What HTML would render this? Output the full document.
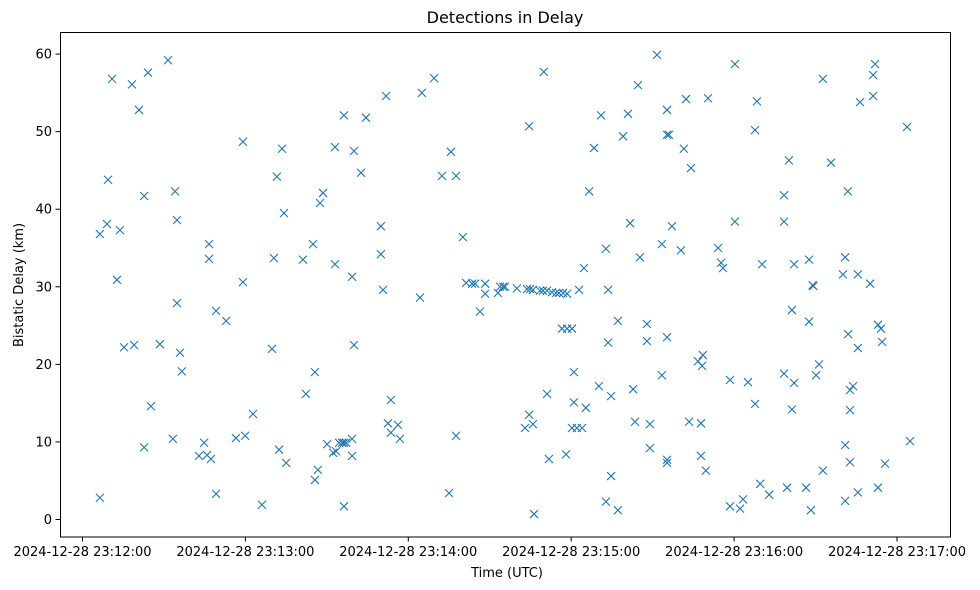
<!DOCTYPE html>
<html><head><meta charset="utf-8"><style>
html,body{margin:0;padding:0;background:#fff;}
svg{display:block;font-family:"DejaVu Sans","Liberation Sans",sans-serif;}
</style></head><body>
<svg id="chart" width="980" height="590" viewBox="0 0 980 590" xmlns="http://www.w3.org/2000/svg">
<rect x="0" y="0" width="980" height="590" fill="#fff"/>
<text x="505" y="23" text-anchor="middle" font-size="16" fill="#000">Detections in Delay</text>
<text x="507" y="577" text-anchor="middle" font-size="13" fill="#000">Time (UTC)</text>
<text transform="translate(23,285) rotate(-90)" text-anchor="middle" font-size="13" fill="#000">Bistatic Delay (km)</text>
<g id="marks"></g>
<g id="axes"></g>
<rect x="60.5" y="32.5" width="890" height="504.5" fill="none" stroke="#000" stroke-width="1"/>
</svg>
<script>
// seconds after 2024-12-28 23:12:00
const times = [10.9,18.2,24.1,31.5,20.8,9.4,22.7,34.1,34.8,9.0,6.4,13.8,59.1,73.5,71.6,74.2,93.0,96.3,100.0,104.4,102.6,88.6,87.5,84.9,46.6,46.6,70.5,81.2,93.0,99.3,12.7,59.1,34.8,49.2,52.9,15.3,19.0,28.5,35.9,36.6,69.8,100.0,85.6,82.3,25.2,62.8,22.7,33.3,44.8,42.9,45.9,47.3,56.5,59.9,72.4,75.0,90.1,92.3,93.4,94.5,95.6,96.3,97.1,99.3,99.3,86.7,85.6,6.4,49.2,66.1,96.3,111.8,125.0,129.5,135.7,132.4,137.6,109.9,109.9,140.1,169.9,164.5,211.6,204.6,191.0,200.9,215.3,199.1,215.3,216.0,188.4,186.6,201.7,217.1,192.8,213.4,205.3,184.7,110.7,124.3,141.3,143.5,144.6,148.3,148.3,146.4,153.0,153.8,154.9,155.6,160.0,163.7,164.8,165.9,168.5,169.6,171.1,172.9,174.4,175.5,177.0,178.5,182.9,193.6,176.6,178.5,180.3,197.2,207.9,193.6,207.9,215.3,181.0,213.4,190.2,171.1,181.0,194.7,202.8,185.4,113.6,164.5,165.9,163.0,112.5,116.2,113.6,116.9,137.6,180.3,182.1,184.0,203.5,209.0,209.0,215.3,215.3,171.8,178.1,194.7,135.0,192.8,197.2,166.3,240.3,272.7,291.9,291.2,291.2,286.4,303.7,222.3,230.4,248.4,247.7,221.5,224.1,260.2,275.7,258.4,281.9,240.3,258.4,220.4,234.1,235.2,235.9,250.3,262.1,267.6,280.9,280.1,285.6,290.1,268.9,269.2,261.3,267.6,282.0,285.6,293.0,294.1,294.5,228.5,226.7,228.2,238.5,245.1,258.4,262.1,271.3,270.2,283.8,282.7,247.7,261.3,282.7,223.4,227.8,280.9,282.7,304.8,227.8,229.6,295.6,272.7,249.6,252.9,259.5,266.5,238.5,242.2,243.3,268.3,280.9,285.6,293.0];
const delays = [56.8,56.1,57.6,59.2,52.8,43.8,41.7,42.3,38.6,38.1,36.8,37.3,48.7,47.8,44.2,39.5,48.0,52.1,47.5,51.8,44.7,42.1,40.8,35.5,35.5,33.6,33.7,33.5,32.9,31.3,30.9,30.6,27.9,26.9,25.6,22.2,22.5,22.6,21.5,19.1,22.0,22.5,19.0,16.2,14.6,13.6,9.3,10.4,9.9,8.2,8.3,7.8,10.5,10.8,9.0,7.3,9.7,8.6,8.8,9.9,9.9,9.9,9.9,10.4,8.2,6.4,5.1,2.8,3.3,1.9,1.7,54.6,55.0,56.9,47.4,44.3,44.3,37.8,34.2,36.4,57.7,50.7,59.9,56.0,52.1,52.3,52.8,49.4,49.6,49.6,47.9,42.3,38.2,37.8,34.9,35.5,33.8,32.4,29.6,28.6,30.5,30.4,30.4,30.4,29.1,26.8,29.2,30.0,30.0,30.0,29.8,29.7,29.7,29.6,29.5,29.5,29.5,29.3,29.2,29.2,29.2,29.1,29.6,29.6,24.6,24.6,24.6,25.6,25.2,22.8,23.0,23.5,19.0,18.6,17.2,16.2,15.1,15.9,16.8,14.4,15.4,13.5,12.3,11.8,12.4,12.2,11.2,10.4,10.8,11.8,11.8,11.8,12.6,12.3,9.2,7.7,7.3,7.8,8.4,5.6,3.4,2.3,1.2,0.7,58.7,56.8,58.7,57.3,54.6,53.8,50.6,54.2,54.3,53.9,50.2,47.8,45.3,46.3,46.0,41.8,42.3,38.4,38.4,34.7,35.0,33.1,32.4,32.9,32.9,33.5,33.8,31.6,31.6,30.4,30.2,30.1,27.0,25.5,23.9,22.1,25.1,24.6,22.9,21.2,20.4,19.8,18.0,17.7,18.8,17.6,20.0,18.6,17.2,16.7,14.9,14.2,14.1,12.6,12.4,9.6,7.4,10.1,8.2,6.3,7.2,6.3,4.6,3.2,4.1,4.1,1.7,1.4,2.6,1.2,2.4,3.5,4.1];
const xTickValues = [0,60,120,180,240,300];
const xTickLabels = ["2024-12-28 23:12:00","2024-12-28 23:13:00","2024-12-28 23:14:00","2024-12-28 23:15:00","2024-12-28 23:16:00","2024-12-28 23:17:00"];
const yTickValues = [0,10,20,30,40,50,60];

const NS = "http://www.w3.org/2000/svg";
function xScale(t){ return 82.5 + t * 2.715; }
function yScale(v){ return 519.5 - v * 7.757; }

const marks = document.getElementById('marks');
for (let i = 0; i < times.length; i++) {
  const cx = xScale(times[i]), cy = yScale(delays[i]), r = 4;
  const p = document.createElementNS(NS, 'path');
  p.setAttribute('d', `M${cx-r},${cy-r}L${cx+r},${cy+r}M${cx-r},${cy+r}L${cx+r},${cy-r}`);
  p.setAttribute('stroke', '#1f77b4');
  p.setAttribute('stroke-width', '1.1');
  p.setAttribute('fill', 'none');
  
  
  marks.appendChild(p);
}

const axes = document.getElementById('axes');
xTickValues.forEach((t, i) => {
  const x = xScale(t);
  const l = document.createElementNS(NS, 'line');
  l.setAttribute('x1', x); l.setAttribute('x2', x);
  l.setAttribute('y1', 537); l.setAttribute('y2', 541.5);
  l.setAttribute('stroke', '#000');
  
  
  axes.appendChild(l);
  const tx = document.createElementNS(NS, 'text');
  tx.setAttribute('x', x); tx.setAttribute('y', 556);
  tx.setAttribute('text-anchor', 'middle');
  tx.setAttribute('font-size', '13');
  tx.textContent = xTickLabels[i];
  
  
  axes.appendChild(tx);
});
yTickValues.forEach(v => {
  const y = yScale(v);
  const l = document.createElementNS(NS, 'line');
  l.setAttribute('x1', 55.5); l.setAttribute('x2', 60);
  l.setAttribute('y1', y); l.setAttribute('y2', y);
  l.setAttribute('stroke', '#000');
  
  
  axes.appendChild(l);
  const tx = document.createElementNS(NS, 'text');
  tx.setAttribute('x', 52); tx.setAttribute('y', y + 4.5);
  tx.setAttribute('text-anchor', 'end');
  tx.setAttribute('font-size', '13');
  tx.textContent = String(v);
  
  
  axes.appendChild(tx);
});
</script>
</body></html>
